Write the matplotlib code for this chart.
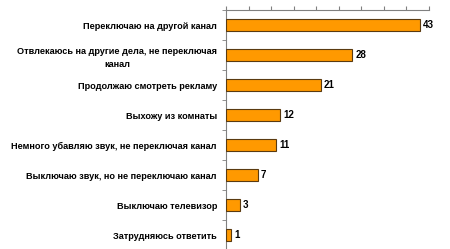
import matplotlib
matplotlib.use("Agg")
import matplotlib.pyplot as plt
import numpy as np

categories = [
    "Переключаю на другой канал",
    "Отвлекаюсь на другие дела, не переключая\nканал",
    "Продолжаю смотреть рекламу",
    "Выхожу из комнаты",
    "Немного убавляю звук, не переключая канал",
    "Выключаю звук, но не переключаю канал",
    "Выключаю телевизор",
    "Затрудняюсь ответить",
]
values = [43, 28, 21, 12, 11, 7, 3, 1]
x_ticks = list(range(0, 50, 5))

plt.rcParams['font.family'] = ['Liberation Sans', 'DejaVu Sans']

fig = plt.figure(figsize=(4.5, 2.49), dpi=100)
ax = fig.add_axes([226/450, 1 - 250/249, 202.5/450, 240/249])

y = np.arange(len(categories))
ax.barh(y, values, height=0.37, color='#FF9900', edgecolor='#5a3a10', linewidth=0.8, zorder=3)
for yi, v in zip(y, values):
    ax.text(v + 0.8, yi, str(v), va='center', ha='left', fontsize=7, fontweight='bold')

ax.set_xlim(0, 45)
ax.set_ylim(len(categories) - 0.5, -0.5)

ax.set_yticks(y)
ax.set_yticklabels(categories, fontsize=6.6, fontweight='bold', multialignment='center',
                   linespacing=1.5)
ax.tick_params(axis='y', which='major', length=0, pad=6.5)
ax.set_yticks(np.arange(-0.5, len(categories), 1), minor=True)
ax.tick_params(axis='y', which='minor', length=3, color='#808080', direction='out')

ax.xaxis.tick_top()
ax.set_xticks(x_ticks)
ax.set_xticklabels([])
ax.tick_params(axis='x', length=3, color='#808080', direction='out')

for s in ['right', 'bottom']:
    ax.spines[s].set_visible(False)
for s in ['left', 'top']:
    ax.spines[s].set_color('#808080')
    ax.spines[s].set_linewidth(0.8)

fig.savefig('out.png', dpi=100)
